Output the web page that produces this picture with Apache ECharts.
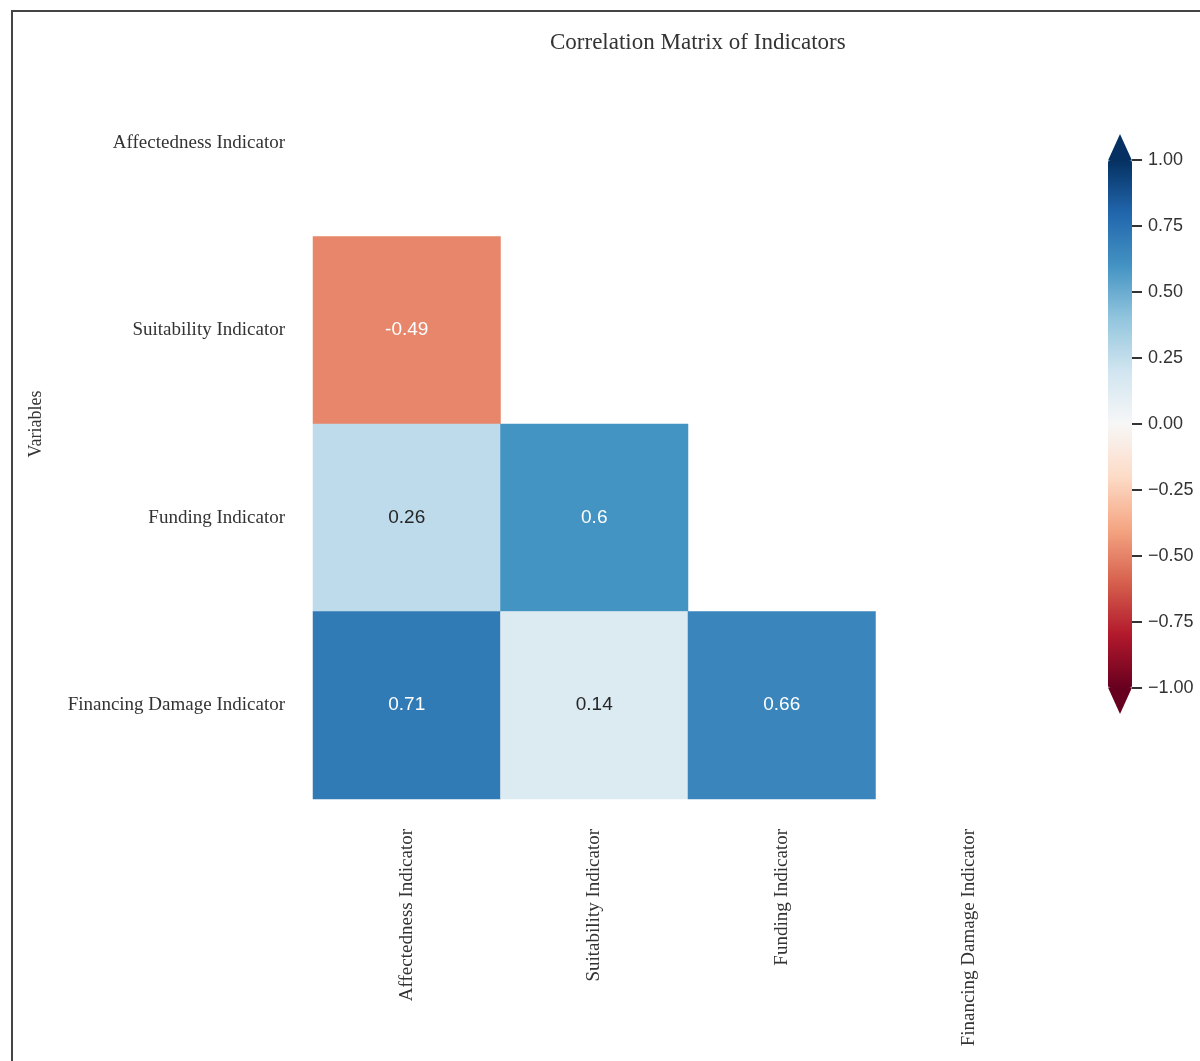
<!DOCTYPE html>
<html>
<head>
<meta charset="utf-8">
<script src="https://cdn.jsdelivr.net/npm/echarts@6/dist/echarts.min.js"></script>
<style>
  html, body { margin: 0; padding: 0; background: #fff; }
  #chart { width: 1200px; height: 1061px; }
</style>
</head>
<body>
<div id="chart"></div>
<script>
// variables, in matrix order
const variables = ['Affectedness Indicator', 'Suitability Indicator', 'Funding Indicator', 'Financing Damage Indicator'];
// lower triangle of the correlation matrix: [column, row, r]
const correlations = [
  [0, 1, -0.49],
  [0, 2, 0.26],
  [1, 2, 0.6],
  [0, 3, 0.71],
  [1, 3, 0.14],
  [2, 3, 0.66]
];
// colorbar ticks
const cbarMin = -1;
const cbarMax = 1;
const cbarStep = 0.25;
// RdBu colormap, low -> high
const rdbu = ['#67001f', '#b2182b', '#d6604d', '#f4a582', '#fddbc7', '#f7f7f7',
              '#d1e5f0', '#92c5de', '#4393c3', '#2166ac', '#053061'];

const serif = '"Liberation Serif", "DejaVu Serif", serif';
const sans = '"Liberation Sans", Arial, sans-serif';

const myChart = echarts.init(document.getElementById('chart'));

let option = {
  backgroundColor: '#fff',
  animation: false,
  title: {
    text: 'Correlation Matrix of Indicators',
    left: 545,
    top: 26,
    textStyle: { fontFamily: serif, fontSize: 23, fontWeight: 'normal', color: '#333' }
  },
  grid: [
    { left: 313, top: 49, width: 750, height: 750 },
    { left: 1108, top: 160, width: 24, height: 528 }
  ],
  xAxis: [
    {
      type: 'category',
      data: variables,
      gridIndex: 0,
      axisLine: { show: false },
      axisTick: { show: false },
      splitLine: { show: false },
      axisLabel: { rotate: 90, margin: 30, fontFamily: serif, fontSize: 19, color: '#333', interval: 0 }
    },
    { type: 'value', gridIndex: 1, show: false, min: 0, max: 1 }
  ],
  yAxis: [
    {
      type: 'category',
      data: variables,
      inverse: true,
      gridIndex: 0,
      name: 'Variables',
      nameLocation: 'middle',
      nameGap: 268,
      nameTextStyle: { fontFamily: serif, fontSize: 18, color: '#333' },
      axisLine: { show: false },
      axisTick: { show: false },
      splitLine: { show: false },
      axisLabel: { margin: 28, fontFamily: serif, fontSize: 19, color: '#333', interval: 0 }
    },
    {
      type: 'value',
      gridIndex: 1,
      position: 'right',
      min: cbarMin,
      max: cbarMax,
      interval: cbarStep,
      z: 10,
      axisLine: { show: true, onZero: false, lineStyle: { color: 'rgba(0,0,0,0)' } },
      splitLine: { show: false },
      axisTick: { show: true, inside: false, length: 10, lineStyle: { color: '#333', width: 2 } },
      axisLabel: {
        margin: 16,
        fontFamily: sans,
        fontSize: 18,
        color: '#333',
        formatter: v => (v < 0 ? '\u2212' : '') + Math.abs(v).toFixed(2)
      }
    }
  ],
  visualMap: {
    type: 'continuous',
    min: cbarMin,
    max: cbarMax,
    calculable: false,
    orient: 'vertical',
    left: 1108,
    top: 160,
    itemWidth: 24,
    itemHeight: 528,
    padding: 0,
    seriesIndex: 0,
    inRange: { color: rdbu }
  },
  graphic: [
    // figure frame
    {
      type: 'rect',
      shape: { x: 12, y: 11, width: 1400, height: 1200 },
      style: { fill: 'none', stroke: '#444', lineWidth: 2 }
    },
    // colorbar extend arrows
    {
      type: 'polygon',
      shape: { points: [[1108, 160.5], [1132, 160.5], [1120, 134]] },
      style: { fill: rdbu[rdbu.length - 1] }
    },
    {
      type: 'polygon',
      shape: { points: [[1108, 687.5], [1132, 687.5], [1120, 714]] },
      style: { fill: rdbu[0] }
    }
  ],
  series: [
    {
      type: 'heatmap',
      xAxisIndex: 0,
      yAxisIndex: 0,
      data: correlations,
      label: {
        show: true,
        fontFamily: sans,
        fontSize: 19,
        formatter: p => String(p.value[2]),
        color: '#fff'
      },
      itemStyle: { borderWidth: 0 },
      emphasis: { disabled: true }
    },
    // empty series so the colorbar axis is laid out
    {
      type: 'scatter',
      xAxisIndex: 1,
      yAxisIndex: 1,
      data: [],
      silent: true
    }
  ]
};

// dark text on the pale cells
option.series[0].data = correlations.map(d => ({
  value: d,
  label: { color: Math.abs(d[2]) < 0.4 ? '#262626' : '#fff' }
}));

myChart.setOption(option);
</script>
</body>
</html>
